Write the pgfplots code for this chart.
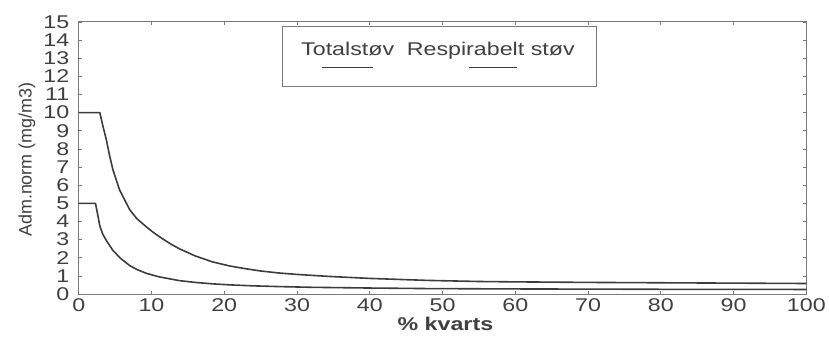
\documentclass[border=0pt]{standalone}
\usepackage{fontspec}
\setmainfont{Liberation Sans}[FakeStretch=1.26]
\newfontfamily\ylabfont{Liberation Sans}
\usepackage{pgfplots}
\pgfplotsset{compat=1.18}
\definecolor{curve}{HTML}{3C3C3C}
\definecolor{axgray}{HTML}{7A7A7A}
\begin{document}
\begin{tikzpicture}
\begin{axis}[
  name=main,
  scale only axis,
  width=730pt, height=273pt,
  xmin=0, xmax=100, ymin=0, ymax=15,
  xtick={0,10,...,100},
  ytick={0,1,...,15},
  tick align=inside,
  major tick length=3pt,
  axis line style={axgray, line width=0.9pt},
  tick style={axgray, line width=0.6pt},
  /pgf/number format/assume math mode=true,
  ticklabel style={font=\fontsize{18.5}{20}\selectfont, text=black!75},
  yticklabel style={xshift=-6pt},
  xticklabel style={yshift=-1pt},
  xlabel={\textbf{\% kvarts}},
  xlabel style={font=\fontsize{18.5}{20}\selectfont, text=black!75, at={(axis description cs:0.504,0)}, anchor=center, yshift=-30pt},
  ylabel={Adm.norm (mg/m3)},
  ylabel style={font=\ylabfont\fontsize{18}{20}\selectfont, text=black!75, at={(axis description cs:-0.0712,0.494)}, anchor=center},
]
\addplot[curve, line width=1.6pt, line join=round] coordinates {
(0,10) (2.9,10) (3.3,9.3) (3.8,8.5) (4.2,7.7) (4.7,6.85) (5.6,5.75) (7,4.65)
(8,4.15) (9.3,3.7) (10.3,3.38) (11.5,3.05) (12.6,2.77) (13.8,2.5) (16,2.1)
(18.4,1.77) (20.7,1.55) (23,1.39) (25,1.27) (27.5,1.16) (30,1.08) (34.4,0.97)
(40,0.86) (48,0.75) (55,0.69) (60,0.67) (70,0.64) (80,0.62) (90,0.6) (100,0.58)
};
\addplot[curve, line width=1.6pt, line join=round] coordinates {
(0,5) (2.3,5) (2.6,4.4) (2.9,3.75) (3.3,3.3) (3.8,2.95) (4.7,2.4) (5.8,1.95)
(7,1.57) (8,1.35) (9.3,1.14) (11,0.95) (13.8,0.74) (16,0.64) (18.4,0.56)
(21,0.5) (24,0.45) (27.5,0.41) (32,0.37) (40,0.33) (48,0.30) (60,0.28)
(70,0.27) (80,0.26) (90,0.26) (100,0.25)
};
% legend box
\draw[axgray, line width=0.8pt] (rel axis cs:0.2795,0.762) rectangle (rel axis cs:0.711,0.982);
\node[anchor=base west, font=\fontsize{18.5}{20}\selectfont, text=black!75, inner sep=0pt] at (rel axis cs:0.3055,0.875) {Totalstøv};
\node[anchor=base west, font=\fontsize{18.5}{20}\selectfont, text=black!75, inner sep=0pt] at (rel axis cs:0.4507,0.875) {Respirabelt støv};
\draw[curve, line width=1.2pt] (rel axis cs:0.334,0.8315) -- (rel axis cs:0.405,0.8315);
\draw[curve, line width=1.2pt] (rel axis cs:0.537,0.8315) -- (rel axis cs:0.603,0.8315);
\end{axis}
\path[use as bounding box] (main.south west) ++(-79pt,-43pt) rectangle +(829pt,338pt);
\end{tikzpicture}
\end{document}
